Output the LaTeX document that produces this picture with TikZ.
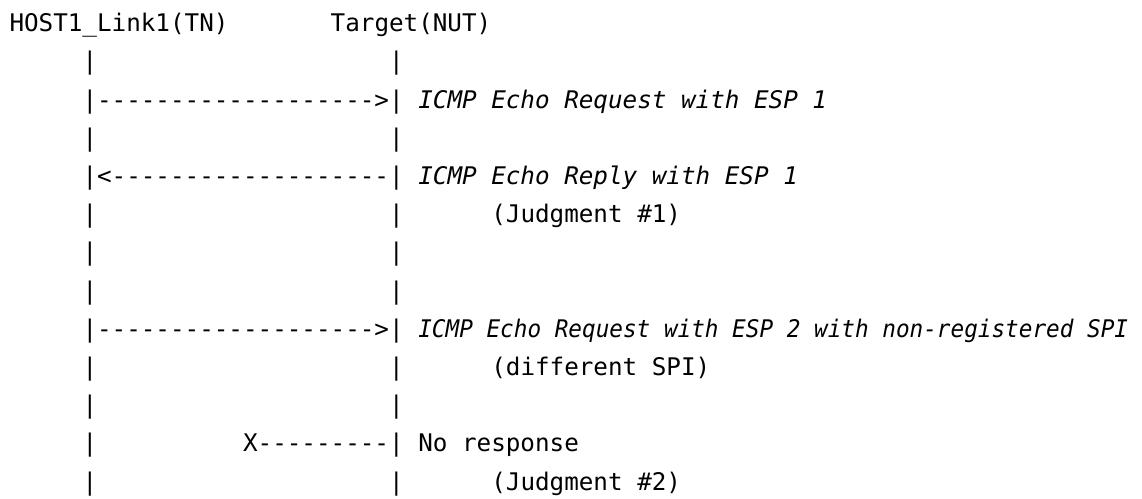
\documentclass[tikz,border=0pt]{standalone}
\usepackage{fontspec}
\usepackage{graphicx}
\setmonofont{DejaVu Sans Mono}[Ligatures=TeXOff]
\newcommand\asciifont{\ttfamily\fontsize{24.25pt}{29pt}\selectfont}
\begin{document}
\begin{tikzpicture}[x=1pt,y=1pt,
  txt/.style={anchor=base west,inner sep=0pt,outer sep=0pt,font=\asciifont},
  note/.style={txt,font=\asciifont\itshape}]
\useasboundingbox (0,0) rectangle (1142,-498);
\fill[white] (0,0) rectangle (1142,-498);
% one unit = one character cell (column) and one text line (row)
\begin{scope}[shift={(9.5pt,-31.7pt)},x=14.6pt,y=-38.2pt]
  % header line
  \node[txt] (host)   at (0,0)  {HOST1\_Link1(TN)};
  \node[txt] (target) at (22,0) {Target(NUT)};
  % plain lifeline rows
  \foreach \r in {1,3,5,6,7,9,10,11,12}
    \node[txt] (lp\r) at (5,\r) {|};
  \foreach \r in {1,3,5,6,7,9,10,12}
    \node[txt] (rp\r) at (26,\r) {|};
  % message rows
  \node[txt]  (req1)  at (5,2)  {|------------------->|};
  \node[note] (req1t) at (28,2) {ICMP Echo Request with ESP 1};
  \node[txt]  (rep1)  at (5,4)  {|<-------------------|};
  \node[note] (rep1t) at (28,4) {ICMP Echo Reply with ESP 1};
  \node[txt]  (jdg1)  at (33,5) {(Judgment \#1)};
  \node[txt]  (req2)  at (5,8)  {|------------------->|};
  \node[txt]  (req2t) at (28,8) {\scalebox{0.935}[1]{\itshape ICMP Echo Request with ESP 2 with non-registered SPI}};
  \node[txt]  (spi)   at (33,9) {(different SPI)};
  \node[txt]  (lost)  at (16,11) {X---------|};
  \node[txt]  (nores) at (28,11) {No response};
  \node[txt]  (jdg2)  at (33,12) {(Judgment \#2)};
\end{scope}
\end{tikzpicture}
\end{document}
